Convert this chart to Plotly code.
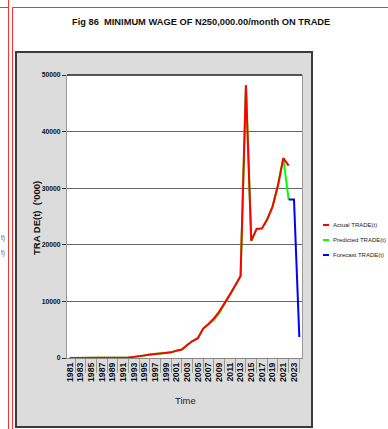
import plotly.graph_objects as go

# ─── Data ───────────────────────────────────────────────────────────────────
YEARS = list(range(1981, 2025))

ACTUAL = [10, 12, 15, 18, 20, 25, 30, 40, 50, 60,
          80, 100, 200, 350, 500, 650, 700, 800, 900, 1000,
          1300, 1500, 2300, 3000, 3500, 5200, 6000, 7000, 8200, 9600,
          11200, 12800, 14500, 48200, 20700, 22800, 22900, 24500, 26800, 30500,
          35300, 34000, None, None]

PREDICTED = [10, 12, 15, 18, 20, 25, 30, 40, 50, 60,
             80, 100, 200, 300, 450, 650, 700, 800, 900, 1000,
             1300, 1500, 2300, 3000, 3500, 5200, 6000, 6700, 7900, 9600,
             11200, 12800, 14500, 48200, 20700, 22800, 22900, 24500, 26800, 30500,
             35300, 28000, None, None]

FORECAST = [None] * 41 + [28000, 28000, 3700]

TICK_YEARS = [1981, 1983, 1985, 1987, 1989, 1991, 1993, 1995, 1997, 1999, 2001,
              2003, 2005, 2007, 2009, 2011, 2013, 2015, 2017, 2019, 2021, 2023]
BOUNDARY_YEARS = [1982, 1984, 1986, 1988, 1990, 1992, 1994, 1996, 1998, 2000, 2002,
                  2004, 2006, 2008, 2010, 2012, 2014, 2016, 2018, 2020, 2022, 2024]
Y_TICKS = [0, 10000, 20000, 30000, 40000, 50000]

LEGEND_NAMES = ["Actual TRADE(t)", "Predicted TRADE(t)", "Forecast TRADE(t)"]
LEGEND_COLORS = ["#FF0000", "#00FF00", "#0000FF"]

FONT = "Liberation Sans, Arial, sans-serif"

# ─── Pixel geometry helpers ─────────────────────────────────────────────────
W, H = 388, 429
L, R, T, B = 67, 302, 75, 358


def px(x):
    return (x - L) / (R - L)


def py(y):
    return (B - y) / (B - T)


def label(text, x, y, size, xanchor="center", color="#111111", angle=0):
    return dict(text=text, xref="paper", yref="paper", x=px(x), y=py(y),
                xanchor=xanchor, yanchor="middle", textangle=angle, showarrow=False,
                font=dict(family=FONT, size=size, color=color))


fig = go.Figure()
fig.add_trace(go.Scatter(x=YEARS, y=PREDICTED, mode="lines", name=LEGEND_NAMES[1],
                         line=dict(color="#00FF00", width=2)))
fig.add_trace(go.Scatter(x=YEARS, y=FORECAST, mode="lines", name=LEGEND_NAMES[2],
                         line=dict(color="#0000FF", width=2)))
fig.add_trace(go.Scatter(x=YEARS, y=ACTUAL, mode="lines", name=LEGEND_NAMES[0],
                         line=dict(color="#FF0000", width=2)))

shapes = [
    # gray panel behind the chart
    dict(type="rect", xref="paper", yref="paper", layer="below",
         x0=px(16), x1=px(312), y0=py(427), y1=py(52),
         fillcolor="#DCDCDC", line=dict(color="#3A3A3A", width=2)),
    # white plotting area
    dict(type="rect", xref="paper", yref="paper", layer="below",
         x0=0, x1=1, y0=0, y1=1, fillcolor="white", line=dict(width=0)),
    # top border
    dict(type="line", xref="paper", yref="paper", x0=0, x1=1, y0=1, y1=1,
         line=dict(color="#202020", width=1.5)),
    # red page frames
    dict(type="line", xref="paper", yref="paper", x0=px(8.5), x1=px(8.5),
         y0=py(-2), y1=py(431), line=dict(color="#FF3030", width=1)),
    dict(type="line", xref="paper", yref="paper", x0=px(-2), x1=px(8.5),
         y0=py(7.5), y1=py(7.5), line=dict(color="#FF3030", width=1)),
    dict(type="line", xref="paper", yref="paper", x0=px(12.5), x1=px(12.5),
         y0=py(7.5), y1=py(431), line=dict(color="#FF3030", width=1)),
    dict(type="line", xref="paper", yref="paper", x0=px(12.5), x1=px(390),
         y0=py(7.5), y1=py(7.5), line=dict(color="#FF3030", width=1)),
]

annotations = [
    label("<b>Fig 86  MINIMUM WAGE OF N250,000.00/month ON TRADE</b>", 201, 22, 9.3),
    label("<b>TRA DE(t)  ('000)</b>", 36, 218, 9.5, angle=-90),
    label("Time", 185, 400, 9.5, color="#222222"),
    # cut-off legend of the neighbouring figure
    label("t)", -1, 238, 6.5, xanchor="left", color="#555555"),
    label("t)", -1, 253, 6.5, xanchor="left", color="#555555"),
]

# hand-drawn legend (short line swatches like the original)
for i, (name, col) in enumerate(zip(LEGEND_NAMES, LEGEND_COLORS)):
    yy = 225 + i * 15
    shapes.append(dict(type="line", xref="paper", yref="paper",
                       x0=px(323), x1=px(329), y0=py(yy), y1=py(yy),
                       line=dict(color=col, width=2)))
    annotations.append(label(name, 331, yy, 6, xanchor="left", color="#222222"))

fig.update_layout(
    width=W, height=H,
    margin=dict(l=L, r=W - R, t=T, b=H - B, autoexpand=False),
    paper_bgcolor="white",
    plot_bgcolor="rgba(0,0,0,0)",
    showlegend=False,
    shapes=shapes,
    annotations=annotations,
    xaxis=dict(
        range=[1980.5, 2024.5], automargin=False,
        tickmode="array", tickvals=TICK_YEARS,
        ticktext=[str(y) for y in TICK_YEARS],
        tickangle=-90, ticks="",
        tickfont=dict(family=FONT, size=8.8, weight="bold", color="#111111"),
        showgrid=False, zeroline=False,
        showline=True, linecolor="#888888", linewidth=1, mirror=False,
        minor=dict(tickmode="array", tickvals=BOUNDARY_YEARS, ticks="outside",
                   ticklen=14, tickcolor="#999999", showgrid=False),
    ),
    yaxis=dict(
        range=[0, 50000], automargin=False,
        tickmode="array", tickvals=Y_TICKS,
        ticktext=[str(v) for v in Y_TICKS],
        ticks="outside", ticklen=4, tickcolor="#333333",
        tickfont=dict(family=FONT, size=6.8, weight="bold", color="#111111"),
        showgrid=True, gridcolor="#666666", gridwidth=1,
        zeroline=False,
        showline=True, linecolor="#9A9A9A", linewidth=1, mirror=True,
    ),
)

# the page body has a default 8px margin; drop it so the figure fills the window
fig.write_html("out.html", config={"displayModeBar": False},
               post_script="document.body.style.margin='0';")
